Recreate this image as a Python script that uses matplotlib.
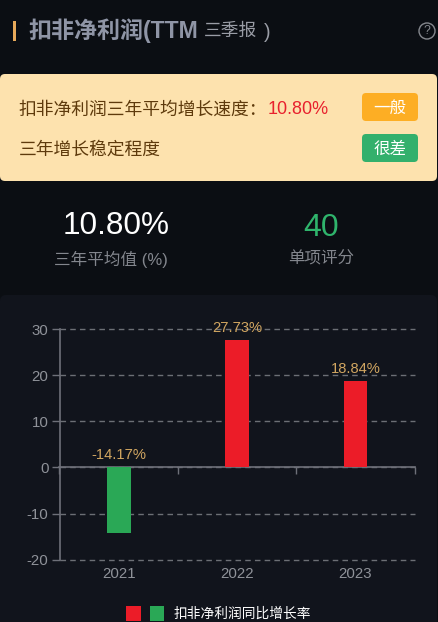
#!/usr/bin/env python
import matplotlib
matplotlib.use('Agg')
import matplotlib.pyplot as plt
from matplotlib.patches import FancyBboxPatch, Rectangle, Circle

plt.rcParams['font.family'] = ['Liberation Sans', 'Noto Sans CJK SC', 'DejaVu Sans']

years = ['2021', '2022', '2023']
growth = [-14.17, 27.73, 18.84]
growth_labels = ['-14.17%', '27.73%', '18.84%']
y_ticks = [-20, -10, 0, 10, 20, 30]

W, H = 438, 622
BG = '#0b0e13'
PANEL = '#11141c'
RED = '#ec1c28'
GREEN = '#2aa856'
AXIS = '#6e7079'
GRID = '#6c6f75'
LABEL = '#8f9299'


def px(size):
    # css pixels to points at dpi 100
    return size * 0.72


fig = plt.figure(figsize=(W / 100, H / 100), dpi=100, facecolor=BG)

# page layer, in pixel coordinates with y going down
page = fig.add_axes([0, 0, 1, 1])
page.set_xlim(0, W)
page.set_ylim(H, 0)
page.axis('off')


def box(x, y, w, h, color, r):
    page.add_patch(FancyBboxPatch((x + r, y + r), w - 2 * r, h - 2 * r,
                                  boxstyle='round,pad=%s,rounding_size=%s' % (r, r),
                                  fc=color, ec='none'))


# header
page.add_patch(Rectangle((13, 21), 3, 20, fc='#e7a95a', ec='none'))
page.text(28.5, 31, '扣非净利润(TTM', fontsize=px(23), fontweight='bold', color='#8f95a6', va='center')
page.text(204, 31, '三季报', fontsize=px(17.7), color='#9a9da6', va='center')
page.text(264, 32, ')', fontsize=px(20), color='#9a9da6', va='center')
page.add_patch(Circle((427, 31), 8, fc='none', ec='#85888e', lw=1))
page.text(427, 31, '?', fontsize=px(12), color='#85888e', ha='center', va='center')

# summary box
box(0, 74, 437, 107, '#fde2ae', 5)
page.text(18.5, 110, '扣非净利润三年平均增长速度：', fontsize=px(17.8), color='#5e3a0c', va='center')
page.text(268, 110, '10.80%', fontsize=px(18), color='#e8212e', va='center')
page.text(18.5, 150.5, '三年增长稳定程度', fontsize=px(17.8), color='#5e3a0c', va='center')
box(362, 93, 56, 28, '#fdae24', 4)
page.text(390, 108, '一般', fontsize=px(16.5), color='white', ha='center', va='center')
box(362, 134, 56, 28, '#33b06c', 4)
page.text(390, 149, '很差', fontsize=px(16.5), color='white', ha='center', va='center')

# stats
page.text(116, 226, '10.80%', fontsize=px(31.5), color='white', ha='center', va='center')
page.text(110.5, 259, '三年平均值 (%)', fontsize=px(16.6), color='#83868d', ha='center', va='center')
page.text(321, 228, '40', fontsize=px(32), color='#2fb46c', ha='center', va='center')
page.text(321, 259, '单项评分', fontsize=px(16.5), color='#83868d', ha='center', va='center')

# chart panel
box(0, 295, 437, 340, PANEL, 6)

# chart axes: x 59.5..414.5 px, y 329.5..559.5 px
ax = fig.add_axes([59.5 / W, 1 - 559.5 / H, 355 / W, 230 / H], facecolor='none')
ax.set_xlim(-0.5, 2.5)
ax.set_ylim(-20, 30)

colors = [RED if v >= 0 else GREEN for v in growth]
ax.bar(range(len(years)), growth, width=0.2, color=colors, zorder=3)

for i, v in enumerate(growth):
    top = max(v, 0)
    ax.annotate(growth_labels[i], (i, top), xytext=(0, 5), textcoords='offset pixels',
                ha='center', va='bottom', fontsize=px(14.8), color='#d1a661', zorder=4,
                annotation_clip=False)

ax.set_yticks(y_ticks)
ax.set_yticklabels([str(t) for t in y_ticks])
ax.yaxis.grid(True, linestyle=(0, (4, 3)), color=GRID, lw=1)
for line in ax.get_ygridlines():
    line.set_clip_on(False)
ax.set_axisbelow(True)
ax.tick_params(axis='y', colors=LABEL, labelsize=px(15), length=6, width=1, color=AXIS, pad=2)

for s in ['top', 'right']:
    ax.spines[s].set_visible(False)
ax.spines['left'].set_color(AXIS)
ax.spines['left'].set_linewidth(1.2)
ax.spines['bottom'].set_position(('data', 0))
ax.spines['bottom'].set_color(AXIS)
ax.spines['bottom'].set_linewidth(1.2)

# ticks sit between the categories, labels below the plot
ax.set_xticks([-0.5, 0.5, 1.5, 2.5])
ax.set_xticklabels([])
ax.tick_params(axis='x', direction='out', length=5, width=1, color=AXIS)
for i, y in enumerate(years):
    ax.annotate(y, (i, -20), xytext=(0, -15), textcoords='offset pixels', ha='center', va='center',
                fontsize=px(15), color=LABEL, annotation_clip=False)

# legend
page.add_patch(Rectangle((126, 606), 15, 15, fc=RED, ec='none', zorder=5))
page.add_patch(Rectangle((150, 606), 14, 15, fc=GREEN, ec='none', zorder=5))
page.text(174, 614, '扣非净利润同比增长率', fontsize=px(13.7), color='white', va='center', zorder=5)

fig.savefig('out.png', dpi=100, facecolor=BG)
